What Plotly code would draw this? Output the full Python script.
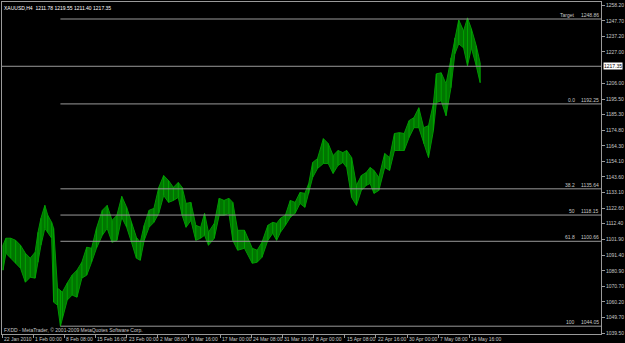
import plotly.graph_objects as go

# ---- data ----
symbol_title = "XAUUSD,H4  1211.78 1219.55 1211.40 1217.35"
copyright_text = "FXDD - MetaTrader, \u00a9 2001-2009 MetaQuotes Software Corp."

# bar index (H4 bars from 22 Jan 2010) of each sampled group of bars
bars = [1, 4, 9, 14, 19, 24, 29, 34, 37, 40, 44, 47, 51, 53, 57, 60, 62, 67, 72, 77,
        82, 87, 92, 97, 103, 108, 113, 118, 123, 128, 133, 138, 142, 146, 151, 156, 161, 166, 171, 176,
        181, 185, 189, 194, 199, 204, 208, 212, 218, 223, 228, 233, 237, 242, 249,
        257, 262, 267, 273, 278, 282, 286, 291, 296, 301, 306, 311, 315, 319, 324,
        330, 335, 340, 345, 350, 354, 359, 364, 369, 374, 378, 382, 387, 393, 398,
        403, 408, 413, 418, 423, 428, 433, 438, 443, 446, 451, 456, 461, 465, 469,
        474, 478, 482, 487, 491]

highs = [1098.0, 1102.7, 1102.7, 1101.3, 1098.0, 1092.7, 1089.4, 1093.4, 1106.7, 1116.0,
         1124.6, 1118.0, 1113.3, 1109.3, 1069.4, 1068.1, 1066.8, 1072.8, 1078.1, 1081.4,
         1086.7, 1096.7, 1096.0, 1109.3, 1121.3, 1124.6, 1114.6, 1118.0, 1130.6, 1123.3,
         1113.3, 1103.3, 1100.0, 1111.3, 1121.3, 1122.6, 1136.6, 1144.5, 1141.2, 1136.6,
         1139.9, 1136.6, 1125.9, 1126.6, 1111.3, 1110.0, 1119.3, 1106.7, 1112.6, 1129.3,
         1127.9, 1129.3, 1126.6, 1108.0, 1108.0,
         1096.0, 1094.7, 1100.0, 1111.3, 1113.3, 1112.6, 1116.0, 1118.0, 1127.9, 1126.6,
         1133.2, 1132.6, 1139.2, 1153.2, 1155.8, 1169.1, 1165.8, 1157.8, 1161.2, 1159.8,
         1161.2, 1156.5, 1137.9, 1144.5, 1146.5, 1149.9, 1147.9, 1143.2, 1159.2, 1156.5,
         1172.5, 1173.1, 1172.5, 1181.1, 1183.1, 1189.7, 1176.4, 1177.8, 1192.4, 1212.3,
         1213.0, 1205.7, 1223.0, 1236.3, 1248.2, 1240.9, 1249.6, 1242.3, 1231.0, 1219.6]

lows = [1081.4, 1092.7, 1089.4, 1086.0, 1082.7, 1073.4, 1076.7, 1076.1, 1086.7, 1098.0,
        1109.3, 1106.7, 1102.7, 1060.1, 1058.1, 1044.05, 1049.5, 1061.5, 1064.8, 1063.4,
        1076.1, 1078.1, 1086.7, 1096.0, 1104.7, 1109.3, 1100.0, 1101.3, 1116.6, 1110.0,
        1100.0, 1089.4, 1088.0, 1101.3, 1110.0, 1113.3, 1119.3, 1131.2, 1126.6, 1127.9,
        1129.9, 1118.0, 1110.0, 1114.6, 1101.3, 1102.7, 1104.7, 1098.0, 1102.7, 1118.0,
        1118.0, 1119.3, 1101.3, 1094.7, 1096.0,
        1086.0, 1086.7, 1090.0, 1101.3, 1106.0, 1101.3, 1106.7, 1111.3, 1116.6, 1119.3,
        1125.9, 1123.3, 1132.6, 1143.2, 1149.2, 1152.5, 1152.5, 1145.9, 1151.2, 1153.2,
        1149.9, 1129.9, 1124.6, 1134.6, 1137.9, 1139.2, 1132.6, 1134.6, 1149.9, 1147.9,
        1161.2, 1161.2, 1161.2, 1169.8, 1176.4, 1176.4, 1165.8, 1156.5, 1174.5, 1193.1,
        1194.4, 1184.4, 1203.0, 1225.6, 1232.3, 1229.6, 1217.7, 1229.6, 1217.7, 1206.4]

current_price = 1217.35

fib_names = ["Target", "0.0", "38.2", "50", "61.8", "100"]
fib_prices = [1248.86, 1192.25, 1135.64, 1118.15, 1100.66, 1044.05]

price_ticks = [1258.20, 1247.70, 1237.20, 1227.00, 1206.00, 1195.50, 1185.30,
               1174.80, 1164.30, 1154.10, 1143.60, 1133.10, 1122.60, 1112.40, 1101.90,
               1091.40, 1080.90, 1070.70, 1060.20, 1049.70, 1039.50]

time_labels = ["22 Jan 2010", "1 Feb 00:00", "8 Feb 08:00", "15 Feb 16:00", "23 Feb 00:00",
               "2 Mar 08:00", "9 Mar 16:00", "17 Mar 00:00", "24 Mar 08:00", "31 Mar 16:00",
               "8 Apr 00:00", "15 Apr 08:00", "22 Apr 16:00", "30 Apr 00:00", "7 May 08:00",
               "14 May 16:00"]
bars_per_label = 32
time_tick_bars = [i * bars_per_label for i in range(len(time_labels))]

# ---- styling ----
BG = "#000000"
FG = "#c8c8c8"
LINE = "#9a9a9a"
GREEN_FILL = "rgb(0,118,0)"
GREEN_LINE = "rgb(0,150,0)"
GREEN_BAR = "rgb(0,165,0)"
FONT = "Liberation Sans Narrow, Arial Narrow, Liberation Sans, Arial, sans-serif"
FS = 5

X_RANGE = [0, 615.1]
Y_RANGE = [1038.85, 1260.2]

fig = go.Figure()
fig.add_trace(go.Scatter(x=bars, y=lows, mode="lines",
                         line=dict(color=GREEN_LINE, width=1), hoverinfo="skip",
                         showlegend=False))
fig.add_trace(go.Scatter(x=bars, y=highs, mode="lines", fill="tonexty",
                         fillcolor=GREEN_FILL, line=dict(color=GREEN_LINE, width=1),
                         hoverinfo="skip", showlegend=False))

# high-low bar strokes for the bar texture
seg_x, seg_y = [], []
for b, h, l in zip(bars, highs, lows):
    seg_x += [b, b, None]
    seg_y += [l, h, None]
fig.add_trace(go.Scatter(x=seg_x, y=seg_y, mode="lines",
                         line=dict(color=GREEN_BAR, width=1), hoverinfo="skip",
                         showlegend=False, connectgaps=False))

# fib anchor = bar of the lowest low
anchor_bar = bars[lows.index(min(lows))]

shapes = []
annotations = []
for name, p in zip(fib_names, fib_prices):
    shapes.append(dict(type="line", xref="x", yref="y", x0=anchor_bar, x1=X_RANGE[1],
                       y0=p, y1=p, line=dict(color=LINE, width=1)))
    annotations.append(dict(xref="paper", yref="y", x=1, y=p, xanchor="right",
                            yanchor="bottom", text=f"{p:.2f}", showarrow=False,
                            font=dict(family=FONT, size=FS, color=FG), borderpad=0,
                            xshift=-1))
    annotations.append(dict(xref="paper", yref="y", x=1, y=p, xanchor="right",
                            yanchor="bottom", text=name, showarrow=False,
                            font=dict(family=FONT, size=FS, color=FG), borderpad=0,
                            xshift=-25))

# current price line and highlighted label
shapes.append(dict(type="line", xref="paper", yref="y", x0=0, x1=1,
                   y0=current_price, y1=current_price, line=dict(color=LINE, width=1)))
annotations.append(dict(xref="paper", yref="y", x=1, y=current_price, xanchor="left",
                        yanchor="middle", text=f"{current_price:.2f}", showarrow=False,
                        bgcolor="#ffffff", font=dict(family=FONT, size=FS, color="#000000"),
                        borderpad=0, xshift=2))

# time labels, left aligned after each tick
for b, lab in zip(time_tick_bars, time_labels):
    annotations.append(dict(xref="x", yref="paper", x=b, y=0, xanchor="left",
                            yanchor="top", text=lab, showarrow=False,
                            font=dict(family=FONT, size=FS, color=FG), borderpad=0,
                            xshift=1, yshift=-1))

annotations.append(dict(xref="paper", yref="paper", x=0, y=1, xanchor="left",
                        yanchor="top", text=symbol_title, showarrow=False,
                        font=dict(family=FONT, size=FS, color="#ffffff"), borderpad=0,
                        xshift=1, yshift=-2))
annotations.append(dict(xref="paper", yref="paper", x=0, y=0, xanchor="left",
                        yanchor="bottom", text=copyright_text, showarrow=False,
                        font=dict(family=FONT, size=FS, color=FG), borderpad=0,
                        xshift=1, yshift=0))

fig.update_layout(
    width=625, height=343,
    margin=dict(l=2, r=19, t=1, b=9, pad=0),
    paper_bgcolor=BG, plot_bgcolor=BG,
    shapes=shapes, annotations=annotations,
    showlegend=False,
    xaxis=dict(range=X_RANGE, showgrid=False, zeroline=False, showline=True,
               mirror=True, linecolor=LINE, linewidth=1,
               tickvals=time_tick_bars, ticks="outside", ticklen=3,
               tickcolor=LINE, showticklabels=False, fixedrange=True),
    yaxis=dict(range=Y_RANGE, side="right", showgrid=False, zeroline=False,
               showline=True, mirror=True, linecolor=LINE, linewidth=1,
               tickvals=price_ticks, ticktext=[f"{v:.2f}" for v in price_ticks],
               ticks="outside", ticklen=3, tickcolor=LINE,
               tickfont=dict(family=FONT, size=FS, color=FG), fixedrange=True),
)

fig.write_html("out.html", config={"displayModeBar": False})
